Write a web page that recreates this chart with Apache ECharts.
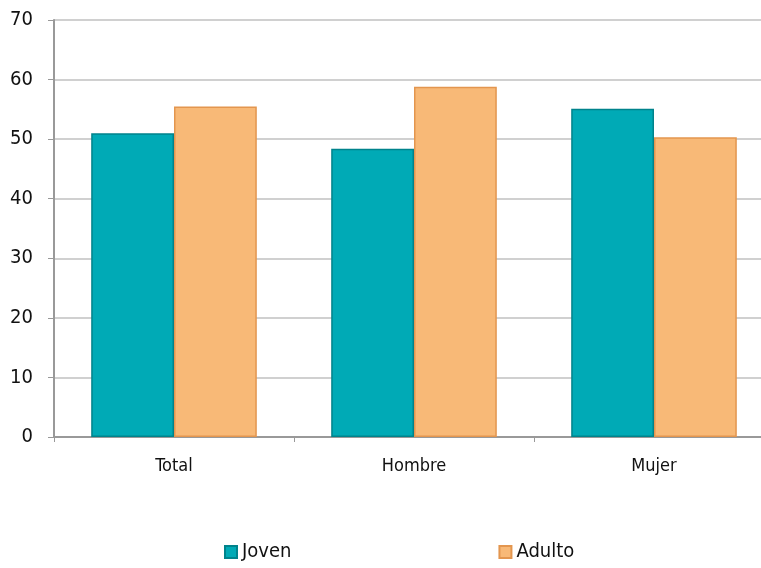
<!DOCTYPE html>
<html><head><meta charset="utf-8">
<script src="https://cdn.jsdelivr.net/npm/echarts@6/dist/echarts.min.js"></script>
<style>html,body{margin:0;padding:0;background:#fff;overflow:hidden;width:761px;height:568px}#c{width:775px;height:568px}</style>
</head><body><div id="c"></div>
<script>
const categories = ['Total', 'Hombre', 'Mujer'];
const joven = [51.0, 48.4, 55.1];
const adulto = [55.5, 58.8, 50.3];
const seriesNames = ['Joven', 'Adulto'];
const font = '"DejaVu Sans Condensed", sans-serif';
const chart = echarts.init(document.getElementById('c'), null, {renderer: 'canvas'});
chart.setOption({
  animation: false,
  textStyle: {fontFamily: font},
  grid: {left: 54, right: 1, top: 20, bottom: 131, containLabel: false},
  legend: {
    top: 537, left: 219, itemGap: 207, itemWidth: 12, itemHeight: 12,
    icon: 'rect',
    textStyle: {fontFamily: font, fontSize: 20, color: '#111'},
    data: seriesNames
  },
  xAxis: {
    type: 'category', data: categories,
    axisLine: {lineStyle: {color: '#999', width: 2}},
    axisTick: {show: true, length: 5, lineStyle: {color: '#999', width: 1}},
    axisLabel: {fontFamily: font, fontSize: 18, color: '#111', margin: 20}
  },
  yAxis: {
    type: 'value', min: 0, max: 70, interval: 10,
    axisLine: {show: true, lineStyle: {color: '#999', width: 2}},
    axisTick: {show: true, length: 6, lineStyle: {color: '#999'}},
    splitLine: {lineStyle: {color: '#d0d0d0', width: 2}},
    axisLabel: {fontFamily: font, fontSize: 20, color: '#111', margin: 21}
  },
  series: [
    {name: seriesNames[0], type: 'bar', data: joven, barGap: '0%', barCategoryGap: '31%',
     itemStyle: {color: '#00AAB6', borderColor: '#00838C', borderWidth: 1.5}},
    {name: seriesNames[1], type: 'bar', data: adulto,
     itemStyle: {color: '#F8B977', borderColor: '#E3964F', borderWidth: 1.5}}
  ]
});
</script></body></html>
